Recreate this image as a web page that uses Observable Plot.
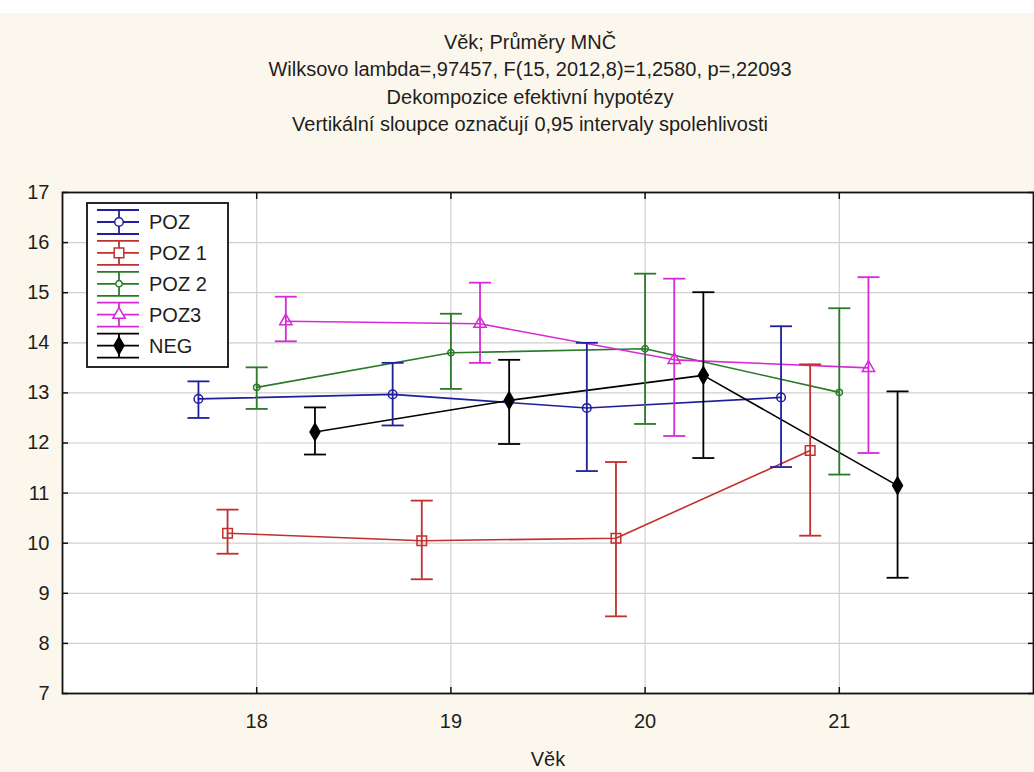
<!DOCTYPE html>
<html>
<head>
<meta charset="utf-8">
<script src="https://cdn.jsdelivr.net/npm/d3@7"></script>
<script src="https://cdn.jsdelivr.net/npm/@observablehq/plot@0.6"></script>
<style>
  body { margin: 0; background: #fff; font-family: "Liberation Sans", Arial, sans-serif; }
  #wrap { position: relative; width: 1034px; height: 772px; overflow: hidden; }
  #bg { position: absolute; left: 0; top: 13px; width: 1034px; height: 759px; background: #fcf7ec; }
  .t { position: absolute; left: 0; width: 1060px; text-align: center; font-size: 20px; line-height: 20px; color: #1e1e1e; white-space: nowrap; }
  #chart { position: absolute; left: 0; top: 0; }
  #xlabel { position: absolute; left: 0; width: 1096px; top: 749px; text-align: center; font-size: 20px; line-height: 20px; color: #1e1e1e; }
</style>
</head>
<body>
<div id="wrap">
  <div id="bg"></div>
  <div class="t" style="top:32px">Věk; Průměry MNČ</div>
  <div class="t" style="top:59px">Wilksovo lambda=,97457, F(15, 2012,8)=1,2580, p=,22093</div>
  <div class="t" style="top:87px">Dekompozice efektivní hypotézy</div>
  <div class="t" style="top:114px">Vertikální sloupce označují 0,95 intervaly spolehlivosti</div>
  <div id="chart"></div>
  <div id="xlabel">Věk</div>
</div>
<script>
// ---- data ----
const series = ["POZ", "POZ 1", "POZ 2", "POZ3", "NEG"];
const ages = [18, 19, 20, 21];
const xTicks = [18, 19, 20, 21];
const yTicks = [7, 8, 9, 10, 11, 12, 13, 14, 15, 16, 17];

const pozMean  = [12.88, 12.97, 12.70, 12.91];
const pozLo    = [12.50, 12.35, 11.44, 11.52];
const pozHi    = [13.23, 13.60, 14.00, 14.33];

const poz1Mean = [10.20, 10.05, 10.10, 11.85];
const poz1Lo   = [9.79, 9.28, 8.54, 10.15];
const poz1Hi   = [10.67, 10.85, 11.62, 13.57];

const poz2Mean = [13.11, 13.80, 13.88, 13.01];
const poz2Lo   = [12.68, 13.08, 12.38, 11.37];
const poz2Hi   = [13.51, 14.58, 15.38, 14.69];

const poz3Mean = [14.43, 14.38, 13.66, 13.50];
const poz3Lo   = [14.03, 13.60, 12.14, 11.80];
const poz3Hi   = [14.92, 15.20, 15.28, 15.31];

const negMean  = [12.22, 12.85, 13.35, 11.15];
const negLo    = [11.77, 11.98, 11.70, 9.31];
const negHi    = [12.71, 13.66, 15.01, 13.03];

// ---- layout / style ----
const dodge = [-0.3, -0.15, 0, 0.15, 0.3];
const colors = ["#1f1f9c", "#c0302e", "#2a7a2a", "#d62ad6", "#000000"];
const means = [pozMean, poz1Mean, poz2Mean, poz3Mean, negMean];
const los = [pozLo, poz1Lo, poz2Lo, poz3Lo, negLo];
const his = [pozHi, poz1Hi, poz2Hi, poz3Hi, negHi];

const rows = [];
series.forEach((s, i) => ages.forEach((a, j) => rows.push({
  series: s, si: i, x: a + dodge[i], mean: means[i][j], lo: los[i][j], hi: his[i][j]
})));

// custom symbol: horizontal cap
const capSymbol = { draw(ctx, size) { const w = Math.sqrt(size / Math.PI); ctx.moveTo(-w, 0); ctx.lineTo(w, 0); } };

const symbolFor = [d3.symbolCircle, d3.symbolSquare, d3.symbolCircle, d3.symbolTriangle, d3.symbolDiamond];
const rFor = [4.3, 5.4, 3.2, 4.6, 5.2];

const colorScale = { type: "ordinal", domain: series, range: colors };

const markerMarks = series.map((s, i) => Plot.dot(rows.filter(d => d.si === i), {
  x: "x", y: "mean", symbol: () => symbolFor[i], r: rFor[i],
  stroke: colors[i], strokeWidth: 1.5, fill: i === 4 ? colors[i] : "none"
}));

const plot = Plot.plot({
  width: 1034,
  height: 772,
  marginLeft: 62,
  marginRight: 1,
  marginTop: 192,
  marginBottom: 79,
  style: { background: "transparent", fontFamily: "'Liberation Sans', Arial, sans-serif", fontSize: "20px", color: "#1e1e1e", overflow: "visible" },
  x: { domain: [17, 22], label: null },
  y: { domain: [7, 17], label: null },
  color: colorScale,
  marks: [
    Plot.frame({ fill: "white", stroke: "none" }),
    Plot.gridX({ ticks: xTicks, stroke: "#cfcfcf", strokeOpacity: 1, strokeWidth: 1.2 }),
    Plot.gridY({ ticks: yTicks.slice(1, -1), stroke: "#cfcfcf", strokeOpacity: 1, strokeWidth: 1.2 }),
    // inward ticks on all four sides
    Plot.axisY({ ticks: yTicks, anchor: "left", tickSize: 6, text: null, label: null, dx: 6, stroke: "#111", strokeWidth: 1.5 }),
    Plot.axisY({ ticks: yTicks, anchor: "right", tickSize: 6, text: null, label: null, dx: -6, stroke: "#111", strokeWidth: 1.5 }),
    Plot.axisX({ ticks: xTicks, anchor: "bottom", tickSize: 6, text: null, label: null, dy: -6, stroke: "#111", strokeWidth: 1.5 }),
    Plot.axisX({ ticks: xTicks, anchor: "top", tickSize: 6, text: null, label: null, dy: 6, stroke: "#111", strokeWidth: 1.5 }),
    // tick labels
    Plot.axisY({ ticks: yTicks, anchor: "left", tickSize: 0, tickPadding: 13, tickFormat: "d", label: null, fontSize: 20, fill: "#1e1e1e" }),
    Plot.axisX({ ticks: xTicks, anchor: "bottom", tickSize: 0, tickPadding: 20, tickFormat: "d", label: null, fontSize: 20, fill: "#1e1e1e" }),
    // series lines
    Plot.line(rows, { x: "x", y: "mean", z: "series", stroke: "series", strokeWidth: 1.6 }),
    // error bars
    Plot.ruleX(rows, { x: "x", y1: "lo", y2: "hi", stroke: "series", strokeWidth: 1.8 }),
    Plot.dot(rows, { x: "x", y: "hi", symbol: () => capSymbol, r: 11, stroke: "series", strokeWidth: 1.8, fill: "none" }),
    Plot.dot(rows, { x: "x", y: "lo", symbol: () => capSymbol, r: 11, stroke: "series", strokeWidth: 1.8, fill: "none" }),
    ...markerMarks,
    Plot.frame({ stroke: "#111", strokeWidth: 1.8 })
  ]
});

document.getElementById("chart").appendChild(plot);

// ---- legend (inside the plot SVG) ----
const svg = d3.select(plot);
const lg = svg.append("g").attr("text-anchor", "start");
lg.append("rect").attr("x", 87).attr("y", 203).attr("width", 141).attr("height", 164)
  .attr("fill", "white").attr("stroke", "#111").attr("stroke-width", 1.8);
series.forEach((s, i) => {
  const cy = 222 + i * 30.9;
  const g = lg.append("g").attr("stroke", colors[i]).attr("stroke-width", 1.8);
  [-12, 0, 12].forEach(dy => g.append("line").attr("x1", 97).attr("x2", 139).attr("y1", cy + dy).attr("y2", cy + dy));
  g.append("line").attr("x1", 119).attr("x2", 119).attr("y1", cy - 12).attr("y2", cy + 12);
  g.append("path").attr("transform", `translate(119,${cy})`)
    .attr("d", d3.symbol(symbolFor[i], Math.PI * rFor[i] * rFor[i])())
    .attr("fill", i === 4 ? colors[i] : "white").attr("stroke-width", 1.5);
  lg.append("text").attr("x", 149).attr("y", cy).attr("dy", "0.36em").attr("text-anchor", "start")
    .attr("font-size", 20).attr("fill", "#1e1e1e").text(s);
});
</script>
</body>
</html>
